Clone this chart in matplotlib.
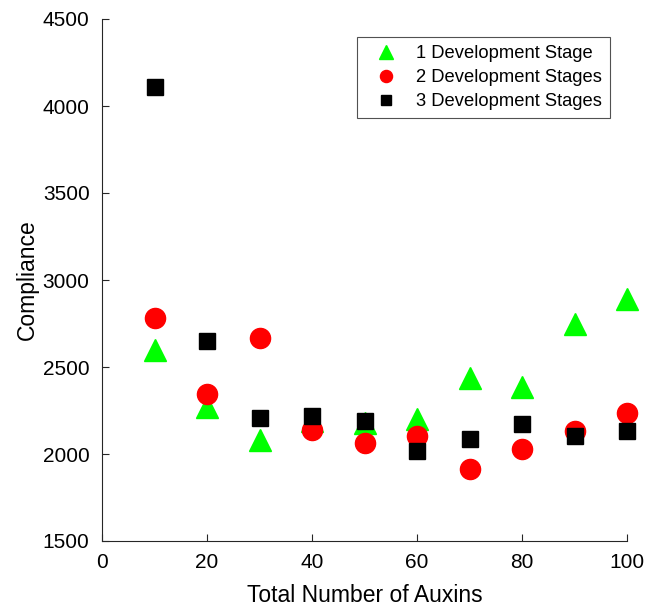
import matplotlib
matplotlib.use("Agg")
import matplotlib.pyplot as plt

plt.rcParams['font.family'] = ['Liberation Sans', 'DejaVu Sans']

auxins = [10, 20, 30, 40, 50, 60, 70, 80, 90, 100]
one_stage = [2598, 2270, 2078, 2190, 2178, 2201, 2437, 2385, 2747, 2888]
two_stages = [2782, 2345, 2667, 2138, 2063, 2103, 1914, 2029, 2132, 2236]
three_stages = [4109, 2649, 2207, 2218, 2190, 2017, 2086, 2172, 2103, 2132]

W, H = 656, 609
fig = plt.figure(figsize=(W / 100, H / 100), dpi=100)
ax = fig.add_axes([102 / W, (H - 541) / H, (627 - 102) / W, (541 - 19) / H])

ax.plot(auxins, one_stage, linestyle='none', marker='^', color='#00ff00',
        markersize=16, label='1 Development Stage', clip_on=False)
ax.plot(auxins, two_stages, linestyle='none', marker='o', color='#ff0000',
        markersize=14.5, label='2 Development Stages', clip_on=False)
ax.plot(auxins, three_stages, linestyle='none', marker='s', color='black',
        markersize=11.5, label='3 Development Stages', clip_on=False)

ax.set_xlim(0, 100)
ax.set_ylim(1500, 4500)
ax.set_xticks([0, 20, 40, 60, 80, 100])
ax.set_yticks([1500, 2000, 2500, 3000, 3500, 4000, 4500])

for side in ('top', 'right'):
    ax.spines[side].set_visible(False)
for side in ('left', 'bottom'):
    ax.spines[side].set_color('#262626')
    ax.spines[side].set_linewidth(0.8)
ax.tick_params(direction='in', length=5, width=0.8, colors='#262626',
               labelcolor='black', labelsize=15, pad=9)

ax.set_xlabel('Total Number of Auxins', fontsize=16.5, labelpad=8)
ax.set_ylabel('Compliance', fontsize=16.5, labelpad=3)

leg = ax.legend(loc='upper left', bbox_to_anchor=(357 / W, 1 - 37 / H),
                bbox_transform=fig.transFigure, fontsize=13.2, markerscale=0.6,
                frameon=True, fancybox=False, edgecolor='#262626',
                borderaxespad=0, borderpad=0.45, handlelength=2.3,
                handletextpad=0.45, labelspacing=0.38)
leg.get_frame().set_linewidth(0.8)

fig.savefig('out.png', dpi=100)
